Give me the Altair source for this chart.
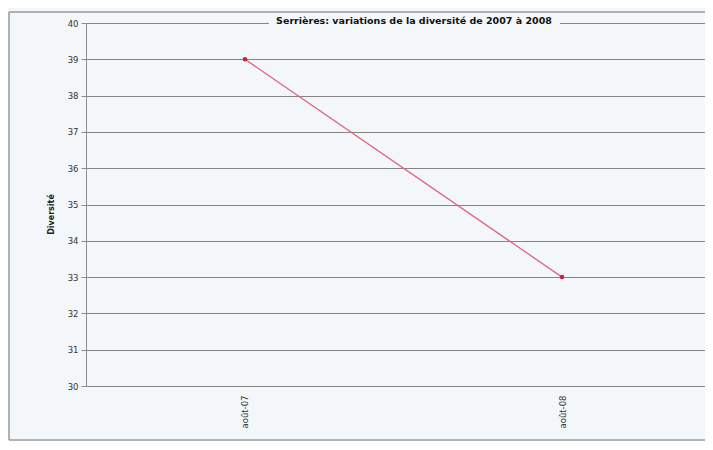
import altair as alt
import pandas as pd

categories = ["août-07", "août-08"]
values = [39, 33]
title_text = "Serrières: variations de la diversité de 2007 à 2008"

df = pd.DataFrame({"mois": categories, "diversite": values})

FONT = "DejaVu Sans"
BG = "#f4f7fa"

base = alt.Chart(df)

x_enc = alt.X("mois:O", sort=categories,
              scale=alt.Scale(type="point", padding=0.4763, align=0.5265),
              axis=alt.Axis(title=None, labelAngle=270, labelFontSize=8.5, labelFont=FONT,
                            labelColor="#333333", domain=False, ticks=False, grid=False,
                            labelPadding=9, labelBaseline="middle"))
y_enc = alt.Y("diversite:Q", scale=alt.Scale(domain=[30, 40], nice=False, zero=False),
              axis=alt.Axis(title="Diversité", values=[30, 31, 32, 33, 34, 35, 36, 37, 38, 39, 40],
                            titleFontSize=8, titleFont=FONT, titleFontWeight="bold",
                            titleColor="#222222", titlePadding=12, titleY=191,
                            labelFontSize=8.5, labelFont=FONT, labelColor="#333333",
                            labelOverlap=False,
                            grid=True, gridColor="#858585", gridWidth=1,
                            domainColor="#8c8c8c", tickColor="#8c8c8c", tickSize=5,
                            labelPadding=3))

frame = base.mark_rect(fill=None, stroke="#9a9a9a", strokeWidth=1).encode(
    x=alt.value(-77), x2=alt.value(700), y=alt.value(-11), y2=alt.value(417))

title_bg = base.mark_rect(fill=BG, stroke=None).encode(
    x=alt.value(183), x2=alt.value(474), y=alt.value(-6), y2=alt.value(6))

line = base.mark_line(color="#e0667c", strokeWidth=1.3).encode(x=x_enc, y=y_enc)
pts = base.mark_point(filled=True, color="#cc1f3c", size=20, opacity=1).encode(x=x_enc, y=y_enc)

chart = alt.layer(frame, title_bg, line, pts).properties(
    width=619, height=363,
    background=BG,
    padding={"left": 78, "top": 15, "right": 0, "bottom": 55},
    autosize=alt.AutoSizeParams(type="none"),
    title=alt.TitleParams(title_text, anchor="middle", dx=18.5, offset=-19, fontSize=9.5,
                          font=FONT, fontWeight="bold", color="#111111", baseline="middle"),
).configure_view(stroke=None)

chart.save("out.html", embed_options={"renderer": "svg", "actions": False})
